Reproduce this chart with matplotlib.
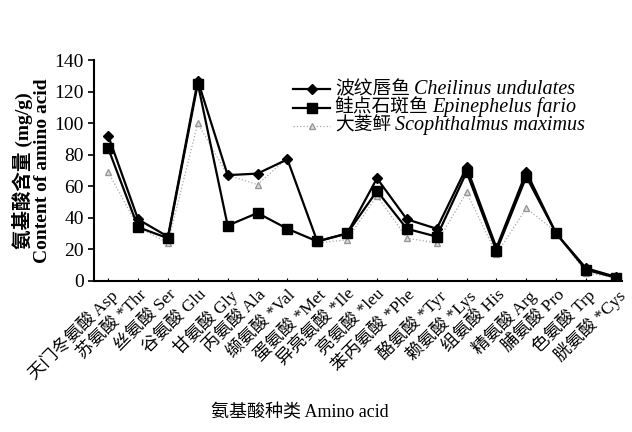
import numpy as np
import matplotlib
matplotlib.use("agg")
import matplotlib.pyplot as plt
from matplotlib.lines import Line2D

plt.rcParams["font.family"] = ["Liberation Serif", "Noto Sans CJK SC"]

labels = ["天门冬氨酸 Asp", "苏氨酸 *Thr", "丝氨酸 Ser", "谷氨酸 Glu", "甘氨酸 Gly",
          "丙氨酸 Ala", "缬氨酸 *Val", "蛋氨酸 *Met", "异亮氨酸 *Ile", "亮氨酸 *leu",
          "苯丙氨酸 *Phe", "酪氨酸 *Tyr", "赖氨酸 *Lys", "组氨酸 His", "精氨酸 Arg",
          "脯氨酸 Pro", "色氨酸 Trp", "胱氨酸 *Cys"]

# mg/g
cheilinus = [92, 39, 28, 127, 67, 68, 77, 25, 30, 65, 39, 33, 72, 21, 69, 30, 8, 2.5]
epinephelus = [84, 34, 27, 125, 35, 43, 33, 25, 30, 57, 33, 28, 69, 19, 66, 30, 7, 2]
scophthalmus = [69, 34, 24, 100, 67, 61, 78, 24, 26, 54, 27, 24, 56, 17, 46, 31, 5, 2]

species_cn = ["波纹唇鱼", "鲑点石斑鱼", "大菱鲆"]
species_latin = ["Cheilinus undulates", "Epinephelus fario", "Scophthalmus maximus"]

x = np.arange(len(labels))

fig = plt.figure(figsize=(6.32, 4.32), dpi=100)
ax = fig.add_axes([0.149, 0.35, 0.835, 0.511])

l3, = ax.plot(x, scophthalmus, color="#aaaaaa", lw=0.9, ls=":", marker="^",
              ms=5, mfc="#dddddd", mec="#999999")
l2, = ax.plot(x, epinephelus, color="black", lw=1.6, marker="s", ms=6.5)
l1, = ax.plot(x, cheilinus, color="black", lw=1.6, marker="D", ms=5.5)

ax.set_xlim(-0.47, 17.2)
ax.set_ylim(0, 140)
ax.set_yticks(np.arange(0, 141, 20))
ax.set_xticks(x)
ax.set_xticklabels(labels, rotation=45, ha="right", rotation_mode="anchor",
                   fontsize=12.5)
ax.tick_params(axis="y", labelsize=14, direction="out", length=4, width=1.2)
ax.tick_params(axis="x", direction="in", length=2, pad=4)
for s in ["top", "right"]:
    ax.spines[s].set_visible(False)
for s in ["left", "bottom"]:
    ax.spines[s].set_linewidth(1.5)

ax.set_ylabel("氨基酸含量 (mg/g)\nContent of amino acid", fontsize=14,
              fontweight="bold", labelpad=2, linespacing=1.15)
fig.text(0.475, 0.035, "氨基酸种类 Amino acid", ha="center", fontsize=13)

# hand-made legend, rows packed tightly like the original
rows = [0.868, 0.785, 0.702]
for line, cn, latin, yy in zip([l1, l2, l3], species_cn, species_latin, rows):
    h = Line2D([0.377, 0.447], [yy, yy], transform=ax.transAxes,
               color=line.get_color(), lw=line.get_linewidth(),
               ls=line.get_linestyle())
    ax.add_line(h)
    ax.plot([0.412], [yy], transform=ax.transAxes, ls="none",
            marker=line.get_marker(), ms=line.get_markersize(),
            mfc=line.get_markerfacecolor(), mec=line.get_markeredgecolor())
    t = ax.text(0.456, yy, cn, transform=ax.transAxes, va="center",
                ha="left", fontsize=13.5)
    ax.annotate(latin, xy=(1, 0.5), xycoords=t, xytext=(3, 0),
                textcoords="offset points", va="center", ha="left",
                fontsize=14.5, fontstyle="italic")

plt.savefig("out.png", dpi=100)
